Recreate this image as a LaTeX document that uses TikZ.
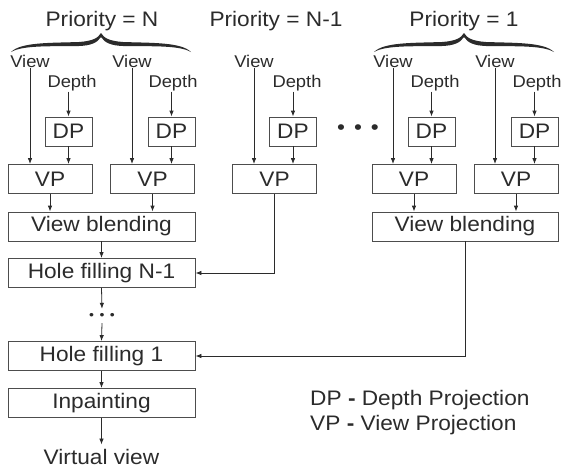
\documentclass[tikz,border=0pt]{standalone}
\usepackage{fontspec}
\setmainfont[FakeStretch=1.08]{Liberation Sans}
\usetikzlibrary{arrows.meta}
\definecolor{ink}{HTML}{2B2B2B}
\definecolor{edge}{HTML}{4D4D4D}
\tikzset{
  bracepic/.pic={
    \fill[ink] (0,0) .. controls (3,5) and (8,8) .. (22,9)
      .. controls (50,10) and (80,9) .. (90,19)
      .. controls (78,12) and (50,13.5) .. (22,13)
      .. controls (10,12.5) and (4,10) .. (0,4)
      .. controls (-4,10) and (-10,12.5) .. (-22,13)
      .. controls (-50,13.5) and (-78,12) .. (-90,19)
      .. controls (-80,9) and (-50,10) .. (-22,9)
      .. controls (-8,8) and (-3,5) .. (0,0) -- cycle;
  }
}
\begin{document}
\begin{tikzpicture}[x=1pt,y=-1pt,
  lbl/.style={font=\fontsize{21}{25}\selectfont, text=ink, inner sep=1pt},
  io/.style={font=\fontsize{17}{20}\selectfont, text=ink, inner sep=1pt},
  box/.style={draw=edge, line width=0.8pt, inner sep=0pt,
    font=\fontsize{21}{25}\selectfont, text=ink, minimum height=29pt},
  dpbox/.style={box, minimum width=47pt},
  vpbox/.style={box, minimum width=84pt},
  wide/.style={box, minimum width=187pt},
  flow/.style={draw=ink, line width=0.8pt, -{Latex[length=6pt,width=4.5pt]}}]
\useasboundingbox (0,0) rectangle (563,469);

% priority headings and braces
\node[lbl, anchor=base] (prN)  at (102,26) {Priority = N};
\node[lbl, anchor=base] (prN1) at (276,26) {Priority = N-1};
\node[lbl, anchor=base] (pr1)  at (464,26) {Priority = 1};
\pic at (101,33) {bracepic};
\pic at (464,33) {bracepic};

% inputs and projection blocks, one column per reference view
\foreach \i/\vx/\dx/\px/\qx in {1/30/72/68.5/50, 2/132/173/171.5/152.5,
    3/254/297/293/274.5, 4/393/435/431.5/414, 5/495/537/534.5/516} {
  \node[io, anchor=base] (view\i) at (\vx,67) {View};
  \node[io, anchor=base] (depth\i) at (\dx,87) {Depth};
  \node[dpbox] (dp\i) at (\px,131.5) {DP};
  \node[vpbox] (vp\i) at (\qx,179) {VP};
}

\node[lbl, inner sep=0pt] (gap) at (358,130) {•\hspace{9pt}•\hspace{9pt}•};

% blending and hole filling chain
\node[wide] (vbL) at (101.5,226.5) {View blending};
\node[box, minimum width=186pt] (vbR) at (465,226.5) {View blending};
\node[wide] (hfn1) at (101.5,273) {Hole filling N-1};
\node[inner sep=0pt, minimum height=14pt, font=\fontsize{13}{14}\selectfont, text=ink]
  (vdots) at (102,316) {•\hspace{5.5pt}•\hspace{5.5pt}•};
\node[wide] (hf1) at (101.5,356) {Hole filling 1};
\node[wide] (inp) at (101.5,403) {Inpainting};
\node[lbl, anchor=base, inner sep=4pt] (vv) at (101.5,464) {Virtual view};

% legend
\node[lbl, anchor=base west] (lgDP) at (309,405) {DP {\bfseries -} Depth Projection};
\node[lbl, anchor=base west] (lgVP) at (309,430) {VP {\bfseries -} View Projection};

% connectors
\foreach \i in {1,...,5} {
  \draw[flow] (view\i.south) -- (view\i.south |- vp\i.north);
  \draw[flow] (dp\i.north |- depth\i.south) -- (dp\i.north);
  \draw[flow] (dp\i.south) -- (dp\i.south |- vp\i.north);
}
\draw[flow] (vp1.south) -- (vp1.south |- vbL.north);
\draw[flow] (vp2.south) -- (vp2.south |- vbL.north);
\draw[flow] (vp4.south) -- (vp4.south |- vbR.north);
\draw[flow] (vp5.south) -- (vp5.south |- vbR.north);
\draw[flow] (vbL.south) -- (hfn1.north);
\draw[flow] (vp3.south) |- (hfn1.east);
\draw[flow] (hfn1.south) -- (vdots.north);
\draw[flow] (vdots.south) -- (hf1.north);
\draw[flow] (vbR.south) |- (hf1.east);
\draw[flow] (hf1.south) -- (inp.north);
\draw[flow] (inp.south) -- (vv.north);
\end{tikzpicture}
\end{document}
